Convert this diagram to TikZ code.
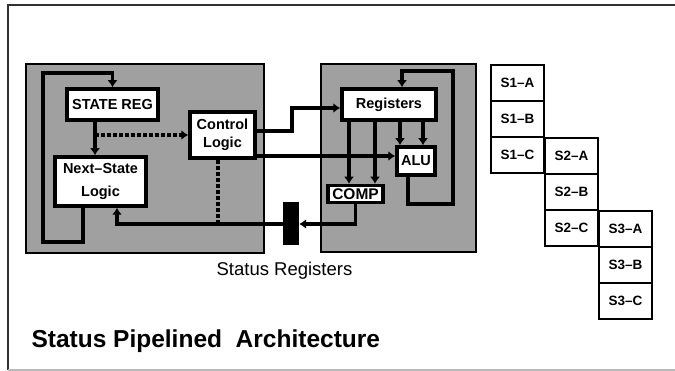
\documentclass[tikz,border=0pt]{standalone}
\usepackage{fontspec}
\setmainfont{Liberation Sans}
\usetikzlibrary{arrows.meta, positioning}
\definecolor{mygray}{RGB}{160,160,160}
\definecolor{myframe}{RGB}{50,50,50}
\definecolor{mylight}{RGB}{185,185,185}
\tikzset{
  stage/.style={rectangle, draw=black, fill=mygray, line width=2pt, inner sep=0pt},
  unit/.style={rectangle, draw=black, fill=white, line width=3.5pt, inner sep=0pt,
    align=center, font=\fontsize{14.5}{18}\selectfont\bfseries},
  cell/.style={rectangle, draw=black, fill=white, line width=2pt, inner sep=0pt,
    minimum width=53pt, minimum height=36pt, font=\fontsize{13.5}{14}\selectfont\bfseries},
  wire/.style={line width=3.8pt, color=black},
  arrow/.style={-{Latex[length=7pt,width=10pt]}, wire},
  dotwire/.style={wire, dash pattern=on 4pt off 2pt},
  dotarrow/.style={-{Latex[length=7pt,width=10pt]}, dotwire}
}
\begin{document}
\begin{tikzpicture}[x=1pt, y=-1pt]
    \useasboundingbox (0,0) rectangle (675,371);

    % Frame
    \draw[myframe, line width=1.8pt] (676,5) -- (8,5) -- (8,370);
    \draw[mylight, line width=1.5pt] (8,370) -- (676,370);

    % Pipeline stages
    \node[stage, minimum width=238pt, minimum height=189pt] (left) at (145,158.5) {};
    \node[stage, minimum width=155pt, minimum height=188pt] (right) at (398.5,158) {};

    % Units of the first stage
    \node[unit, minimum width=91pt, minimum height=31pt] (sreg) at (112.5,104.5) {STATE REG};
    \node[unit, minimum width=65pt, minimum height=46pt] (ctrl) at (222.5,135) {Control\\Logic};
    \node[unit, minimum width=91pt, minimum height=49pt] (nsl) at (100.5,181.5) {Next--State\\[5pt]Logic};

    % Units of the second stage
    \node[unit, minimum width=94pt, minimum height=31pt] (regs) at (389,104.5) {Registers};
    \node[unit, minimum width=38pt, minimum height=28pt] (alu) at (416,161) {ALU};
    \node[unit, minimum width=55pt, minimum height=17pt, font=\fontsize{15.5}{16}\selectfont\bfseries] (comp) at (355.5,194) {COMP};

    % Status registers
    \node[rectangle, fill=black, minimum width=16pt, minimum height=43pt, inner sep=0pt] (sbar) at (291,224) {};
    \node[font=\fontsize{18.5}{20}\selectfont, anchor=base] (sbarlbl) at (284.5,276) {Status Registers};

    % Wires of the first stage
    \draw[arrow] ([xshift=-17.5pt]nsl.south) -- ++(0,34) -| (43,73) -| (sreg.north);
    \coordinate (sn) at ([xshift=-17.5pt]sreg.south);
    \draw[arrow] (sn) -- (sn |- nsl.north);
    \draw[dotarrow] (sn |- ctrl.west) -- (ctrl.west);
    \coordinate (cs) at ([xshift=-4.5pt]ctrl.south);
    \draw[dotwire] (cs) -- (cs |- sbar.west);
    \draw[arrow] (sbar.west) -| ([xshift=16.5pt]nsl.south);

    % Control lines
    \draw[arrow] ([yshift=4pt]ctrl.east) -- ++(35,0) |- ([yshift=-3.5pt]regs.west);
    \draw[arrow] ([yshift=-21pt]ctrl.east) -- ([yshift=5pt]alu.west);

    % Wires of the second stage
    \coordinate (rc1) at ([xshift=-40pt]regs.south);
    \coordinate (rc2) at ([xshift=-14pt]regs.south);
    \coordinate (ra1) at ([xshift=11pt]regs.south);
    \coordinate (ra2) at ([xshift=34pt]regs.south);
    \draw[arrow] (rc1) -- (rc1 |- comp.north);
    \draw[arrow] (rc2) -- (rc2 |- comp.north);
    \draw[arrow] (ra1) -- (ra1 |- alu.north);
    \draw[arrow] (ra2) -- (ra2 |- alu.north);
    \draw[arrow] ([xshift=-8pt]alu.south) |- (453,204) -- (453,71) -| ([xshift=13pt]regs.north);
    \draw[arrow] (comp.south) |- (sbar.east);

    % Pipeline table
    \node[cell] (s1a) at (517.5,83) {S1--A};
    \node[cell] (s1b) at (517.5,119) {S1--B};
    \node[cell] (s1c) at (517.5,155) {S1--C};
    \node[cell] (s2a) at (571.5,156) {S2--A};
    \node[cell] (s2b) at (571.5,192) {S2--B};
    \node[cell] (s2c) at (571.5,228) {S2--C};
    \node[cell] (s3a) at (625.5,229) {S3--A};
    \node[cell] (s3b) at (625.5,265) {S3--B};
    \node[cell] (s3c) at (625.5,301) {S3--C};

    % Title
    \node[font=\fontsize{24.5}{28}\selectfont\bfseries, anchor=base west] (title) at (28,348) {Status Pipelined\ \ Architecture};
\end{tikzpicture}
\end{document}
